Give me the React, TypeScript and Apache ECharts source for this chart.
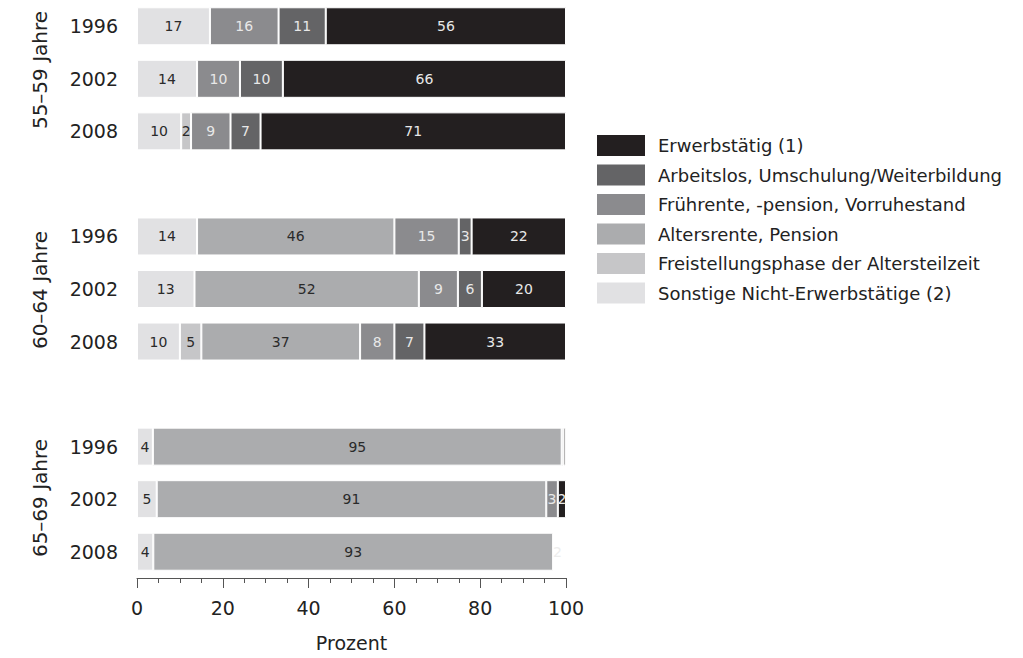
import React, { useEffect, useRef } from "react";
import * as echarts from "echarts";

// ---- data (labels show them rounded) ----
const rowIds = ["r0", "r1", "r2", "g1", "r4", "r5", "r6", "g2", "r8", "r9", "r10"];
const yearLabels = ["1996", "2002", "2008", "", "1996", "2002", "2008", "", "1996", "2002", "2008"];
const groupLabels = ["55–59 Jahre", "60–64 Jahre", "65–69 Jahre"];
const groupMiddleY = [70, 290, 498];

const seriesNames = [
  "Sonstige Nicht-Erwerbstätige (2)",
  "Freistellungsphase der Altersteilzeit",
  "Altersrente, Pension",
  "Frührente, -pension, Vorruhestand",
  "Arbeitslos, Umschulung/Weiterbildung",
  "Erwerbstätig (1)",
];
const sonstige = [17, 14, 10.3, null, 14, 13.4, 10, null, 3.7, 4.6, 3.8];
const freistellung = [0, 0, 2.3, null, 0, 0, 5, null, 0, 0, 0];
const altersrente = [0, 0, 0, null, 46, 52.3, 37, null, 95.3, 90.8, 93.2];
const fruehrente = [16, 10, 9.2, null, 15, 9.1, 8, null, 0.4, 2.7, 0];
const arbeitslos = [11, 10, 7, null, 3, 5.6, 7, null, 0, 0, 0];
const erwerb = [56, 66, 71.2, null, 22, 19.6, 33, null, 0.5, 1.9, 2];
// cell drawn nearly invisible in the original (series index, row index)
const faintCells = [[5, 10]];

const seriesValues = [sonstige, freistellung, altersrente, fruehrente, arbeitslos, erwerb];
const colors = ["#e1e1e3", "#c6c6c8", "#abacae", "#8b8b8e", "#646466", "#231f20"];
const labelColors = ["#2a2a2a", "#2a2a2a", "#2a2a2a", "#e8e8e8", "#e8e8e8", "#e8e8e8"];
const xTicks = { min: 0, max: 100, interval: 20 };

const FONT = "DejaVu Sans";

export default function App() {
  const ref = useRef<HTMLDivElement>(null);
  useEffect(() => {
    if (!ref.current) return;
    const chart = echarts.init(ref.current, null, { renderer: "svg" });
    const series = seriesValues.map((vals, si) => ({
      name: seriesNames[si],
      type: "bar",
      stack: "total",
      barWidth: 38,
      itemStyle: { color: colors[si], borderColor: "#ffffff", borderWidth: 1 },
      label: {
        show: true,
        position: "inside",
        color: labelColors[si],
        fontFamily: FONT,
        fontSize: 14,
        formatter: (p: any) => String(Math.round(p.value)),
      },
      data: vals.map((v, ri) => {
        if (v === null || v === 0) return "-";
        const faint = faintCells.some((c) => c[0] === si && c[1] === ri);
        if (faint) {
          return {
            value: v,
            itemStyle: { color: "rgba(255,255,255,0)", borderWidth: 0 },
            label: { show: true, color: "#ededed" },
          };
        }
        if (v < 1) return { value: v, label: { show: false } };
        return v;
      }),
    }));

    chart.setOption({
      animation: false,
      grid: { left: 137, right: 457, top: -1, bottom: 80, containLabel: false },
      legend: {
        orient: "vertical",
        left: 597,
        top: 135,
        padding: 0,
        itemWidth: 48,
        itemHeight: 21,
        itemGap: 8.5,
        icon: "rect",
        data: [...seriesNames].reverse(),
        itemStyle: { borderWidth: 0 },
        textStyle: { fontFamily: FONT, fontSize: 18, color: "#222", padding: [0, 0, 0, 8] },
      },
      xAxis: {
        type: "value",
        min: xTicks.min,
        max: xTicks.max,
        interval: xTicks.interval,
        name: "Prozent",
        nameLocation: "middle",
        nameGap: 55,
        nameTextStyle: { fontFamily: FONT, fontSize: 19, color: "#222" },
        axisLine: { show: true, lineStyle: { color: "#555", width: 1 } },
        axisTick: { show: true, length: 10, lineStyle: { color: "#555" } },
        minorTick: { show: true, splitNumber: 4, length: 5, lineStyle: { color: "#555" } },
        splitLine: { show: false },
        minorSplitLine: { show: false },
        axisLabel: { fontFamily: FONT, fontSize: 19, color: "#222", margin: 20 },
      },
      yAxis: {
        type: "category",
        inverse: true,
        data: rowIds,
        axisLine: { show: false },
        axisTick: { show: false },
        axisLabel: {
          fontFamily: FONT,
          fontSize: 19,
          color: "#222",
          margin: 19,
          formatter: (v: string) => yearLabels[rowIds.indexOf(v)],
        },
      },
      graphic: groupLabels.map((t, i) => ({
        type: "text",
        x: 40,
        y: groupMiddleY[i],
        rotation: Math.PI / 2,
        style: {
          text: t,
          fontFamily: FONT,
          fontSize: 20,
          fill: "#222",
          align: "center",
          verticalAlign: "middle",
        },
      })),
      series,
    });
    return () => chart.dispose();
  }, []);
  return (
    <div
      ref={ref}
      style={{ position: "fixed", left: 0, top: 0, width: 1023, height: 658, background: "#fff" }}
    />
  );
}
